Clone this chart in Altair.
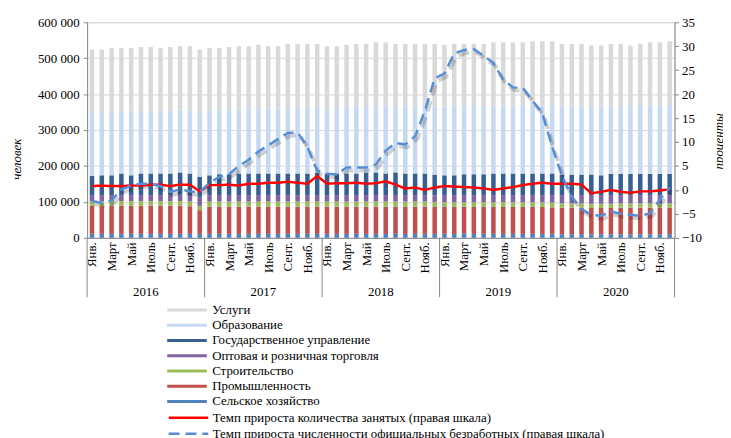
import altair as alt
import pandas as pd

years = ["2016", "2017", "2018", "2019", "2020"]
month_labels = ["Янв.", "Март", "Май", "Июль", "Сент.", "Нояб."]  # shown every other month

categories = ["Услуги", "Образование", "Государственное управление",
              "Оптовая и розничная торговля", "Строительство",
              "Промышленность", "Сельское хозяйство"]
colors = ["#D9D9D9", "#C6D9F1", "#376092", "#8064A2", "#9BBB59", "#C0504D", "#4F81BD"]

# employment by sector, thousand persons, Jan 2016 ... Dec 2020
agriculture = [11]*12 + [11]*12 + [11]*12 + \
    [11, 11, 13, 11, 11, 11, 11, 11, 11, 11, 11, 11] + [10]*12
industry = [78, 77, 78, 78, 78, 78, 78, 78, 78, 78, 77, 66,
            76, 76, 76, 76, 76, 76, 76, 76, 76, 76, 76, 76,
            76, 76, 76, 76, 76, 76, 76, 76, 76, 76, 76, 75,
            75, 75, 73, 75, 75, 75, 75, 75, 75, 75, 75, 74,
            74, 74, 74, 73, 73, 73, 74, 74, 74, 74, 74, 74]
construction = [13, 14, 13, 13, 13, 13, 13, 13, 13, 13, 13, 12,
                14, 14, 14, 14, 14, 14, 14, 14, 14, 14, 14, 14,
                14, 14, 14, 14, 14, 14, 14, 14, 14, 14, 14, 14,
                13, 13, 13, 13, 13, 13, 13, 13, 13, 13, 13, 13,
                12, 12, 12, 12, 12, 12, 12, 12, 12, 12, 12, 12]
trade = [17, 17, 17, 17, 17, 17, 17, 17, 17, 18, 18, 25,
         18, 18, 18, 18, 18, 18, 18, 18, 18, 18, 18, 18,
         18, 18, 18, 18, 18, 18, 18, 18, 18, 18, 18, 18,
         20, 20, 20, 20, 20, 20, 20, 20, 20, 20, 20, 21,
         23, 23, 23, 24, 24, 24, 23, 23, 23, 23, 23, 23]
government = [53, 55, 55, 60, 55, 60, 60, 60, 60, 62, 60, 56,
              55, 58, 58, 60, 60, 60, 60, 60, 60, 60, 60, 63,
              60, 60, 60, 60, 63, 63, 60, 63, 60, 60, 60, 58,
              55, 55, 58, 58, 58, 60, 60, 60, 60, 60, 60, 60,
              57, 57, 57, 57, 55, 59, 59, 59, 59, 59, 59, 59]
education = [178, 176, 176, 173, 178, 174, 174, 171, 176, 175, 176, 180,
             182, 179, 181, 181, 181, 182, 181, 181, 184, 184, 184, 181,
             183, 183, 184, 185, 182, 184, 187, 182, 186, 187, 186, 189,
             191, 192, 189, 190, 190, 189, 189, 189, 189, 190, 190, 190,
             190, 190, 190, 189, 191, 188, 189, 189, 189, 190, 191, 192]
services = [174, 174, 178, 176, 176, 178, 178, 178, 176, 176, 178, 174,
            172, 172, 173, 173, 173, 176, 173, 173, 177, 177, 177, 177,
            171, 171, 174, 176, 176, 178, 178, 176, 175, 174, 175, 175,
            172, 174, 174, 173, 173, 176, 176, 176, 176, 178, 178, 178,
            174, 174, 174, 170, 170, 174, 173, 168, 173, 176, 175, 177]

line_names = ["Темп прироста количества занятых (правая шкала)",
              "Темп прироста численности официальных безработных (правая шкала)"]
line_colors = ["#FF0000", "#558ED5"]
employed_growth = [0.8, 0.9, 0.8, 0.8, 0.9, 0.9, 1.1, 1.1, 0.8, 1.1, 1.1, -0.3,
                   1.0, 1.0, 1.1, 0.9, 1.3, 1.3, 1.5, 1.5, 1.7, 1.5, 1.3, 2.9,
                   1.3, 1.4, 1.4, 1.5, 1.3, 1.4, 1.8, 1.1, 0.3, 0.5, 0.0, 0.5,
                   0.8, 0.7, 0.6, 0.5, 0.3, 0.0, 0.3, 0.6, 1.0, 1.3, 1.5, 1.3,
                   1.3, 1.3, 1.1, -0.7, -0.4, 0.0, -0.4, -0.6, -0.3, -0.3, -0.1, 0.1]
unemployed_growth = [-2.3, -2.7, -2.2, 0.1, 0.9, 1.3, 1.3, 0.8, -0.4, 0.1, -0.3, -0.5,
                     1.5, 2.7, 3.3, 5.0, 6.3, 8.0, 9.3, 10.6, 11.9, 12.0, 9.0, 4.0,
                     3.4, 3.2, 4.7, 4.7, 4.7, 5.3, 8.2, 9.8, 9.5, 11.2, 16.5, 23.3,
                     24.3, 28.5, 29.2, 29.4, 28.0, 26.5, 23.0, 21.4, 21.3, 18.6, 16.0, 9.0,
                     3.0, -1.5, -4.0, -5.2, -5.4, -4.5, -5.0, -5.2, -5.4, -4.9, -2.0, 0.5]

series_by_cat = {
    "Услуги": services, "Образование": education,
    "Государственное управление": government,
    "Оптовая и розничная торговля": trade, "Строительство": construction,
    "Промышленность": industry, "Сельское хозяйство": agriculture,
}

n = len(services)
rows = []
for i in range(n):
    base = 0
    for cat in reversed(categories):  # bottom of the stack first
        v = series_by_cat[cat][i] * 1000
        rows.append({"i": i, "x0": i + 0.27, "x1": i + 0.73, "cat": cat,
                     "bottom": base, "top": base + v})
        base += v
bar_df = pd.DataFrame(rows)

red_df = pd.DataFrame({"xc": [i + 0.5 for i in range(n)], "v": employed_growth,
                       "s": line_names[0]})
blue_df = pd.DataFrame({"xc": [i + 0.5 for i in range(n)], "v": unemployed_growth,
                        "s": line_names[1]})
bounds_df = pd.DataFrame({"b": [12 * k for k in range(len(years) + 1)]})
years_df = pd.DataFrame({"m": [12 * k + 6 for k in range(len(years))], "y": years})

W, H = 594, 218
FONT = "Liberation Serif"
GRAY = "#868686"

month_js = "[" + ",".join("'" + m + "'" for m in month_labels) + "]"
x_scale = alt.Scale(domain=[0, n], nice=False, zero=False)
x_axis = alt.Axis(values=[i + 0.5 for i in range(0, n, 2)],
                  labelExpr=month_js + "[floor((datum.value % 12) / 2)]",
                  labelAngle=270, labelOverlap=False, labelBound=False,
                  labelFlush=False, ticks=False, grid=False,
                  title=None, domainColor=GRAY, labelFont=FONT,
                  labelFontSize=13, labelColor="#000", labelPadding=4)


def xenc(field):
    return alt.X(field, scale=x_scale, axis=x_axis)


bars = alt.Chart(bar_df).mark_bar().encode(
    x=xenc("x0:Q"),
    x2="x1:Q",
    y=alt.Y("top:Q",
            scale=alt.Scale(domain=[0, 600000], nice=False),
            axis=alt.Axis(values=list(range(0, 600001, 100000)),
                          labelExpr="datum.value == 0 ? '0' : (datum.value / 1000) + ' 000'",
                          title="человек", titleFont=FONT, titleFontSize=13,
                          titleFontStyle="italic", titleFontWeight="normal",
                          titleColor="#000", titleX=-64, titleY=138, titleAngle=270,
                          labelFont=FONT, labelFontSize=13, labelColor="#000",
                          grid=True, gridColor="#D9D9D9", domainColor=GRAY,
                          tickColor=GRAY, tickSize=4, labelPadding=4)),
    y2="bottom:Q",
    color=alt.Color("cat:N", scale=alt.Scale(domain=categories, range=colors),
                    legend=alt.Legend(orient="none", legendX=93.5, legendY=283.5,
                                      title=None, labelFont=FONT, labelFontSize=13,
                                      labelColor="#000", labelLimit=500,
                                      symbolType="M-2.67,-0.2H2.67V0.2H-2.67Z",
                                      symbolSize=225, symbolStrokeWidth=0,
                                      labelOffset=18, rowPadding=0.4, padding=0)),
)

rules = alt.Chart(bounds_df).mark_rule(color=GRAY, strokeWidth=1).encode(
    x=xenc("b:Q"), y=alt.value(H), y2=alt.value(H + 60))
ylabels = alt.Chart(years_df).mark_text(font=FONT, fontSize=13, color="#000",
                                         baseline="middle").encode(
    x=xenc("m:Q"), y=alt.value(H + 55), text="y:N")

left = alt.layer(bars, rules, ylabels)

y_right = alt.Y("v:Q", scale=alt.Scale(domain=[-10, 35], nice=False),
                axis=alt.Axis(orient="right", values=list(range(-10, 36, 5)),
                              title="проценты", titleFont=FONT, titleFontSize=13,
                              titleFontStyle="italic", titleFontWeight="normal",
                              titleColor="#000", titleAngle=270, titleX=52, titleY=120,
                              labelFont=FONT, labelFontSize=13, labelColor="#000",
                              grid=False, domainColor=GRAY, tickColor=GRAY,
                              tickSize=4, labelPadding=3))
stroke_enc = alt.Stroke("s:N", scale=alt.Scale(domain=line_names, range=line_colors),
                        legend=alt.Legend(orient="none", legendX=93.5, legendY=391,
                                          title=None, labelFont=FONT, labelFontSize=13,
                                          labelColor="#000", labelLimit=500,
                                          symbolType="M-2.67,0H2.67",
                                          symbolSize=225, symbolStrokeWidth=2.5,
                                          labelOffset=15.5, rowPadding=0, padding=0))
dash_enc = alt.StrokeDash("s:N", scale=alt.Scale(domain=line_names,
                                                 range=[[1, 0], [11, 6]]),
                          legend=None)

shadow = alt.Chart(blue_df).mark_line(color="#000", opacity=0.18, strokeWidth=4,
                                      strokeDash=[11, 6], xOffset=2, yOffset=3).encode(
    x=xenc("xc:Q"), y=y_right)
red_line = alt.Chart(red_df).mark_line(strokeWidth=2.5).encode(
    x=xenc("xc:Q"), y=y_right, stroke=stroke_enc, strokeDash=dash_enc)
blue_line = alt.Chart(blue_df).mark_line(strokeWidth=2.5).encode(
    x=xenc("xc:Q"), y=y_right, stroke=stroke_enc, strokeDash=dash_enc)

right = alt.layer(shadow, red_line, blue_line)

chart = alt.layer(left, right).resolve_scale(
    y="independent", color="independent", stroke="independent", strokeDash="independent"
).properties(
    width=W, height=H, autosize=alt.AutoSizeParams(type="none"),
    padding={"left": 80, "top": 12, "right": 49, "bottom": 200}
).configure_view(stroke=None).configure(background="white")

chart.save("out.html", embed_options={"renderer": "svg", "actions": False})
